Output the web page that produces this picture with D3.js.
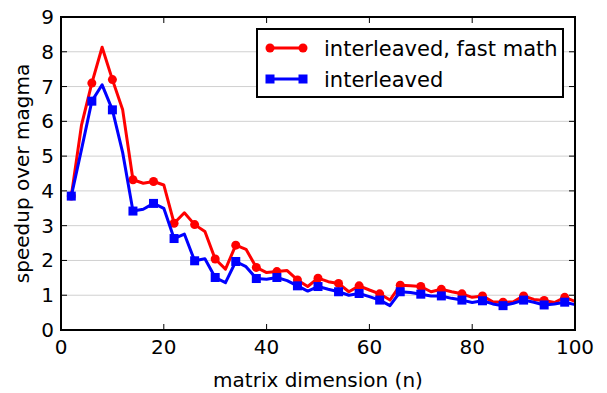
<!DOCTYPE html>
<html lang="en">
<head>
    <meta charset="UTF-8">
    <title>speedup over magma</title>
    <script src="https://d3js.org/d3.v7.min.js"></script>
    <style>
        body { margin: 0; padding: 0; background: white; }
        svg { display: block; font-family: "DejaVu Sans", sans-serif; }
        text { fill: black; }
    </style>
</head>
<body>
    <svg id="chart"></svg>
    <script>
        // matrix dimension n, every 2 from 2 to 100
        const dims = d3.range(2, 101, 2);

        const fastMath = [
            3.85, 5.9, 7.1, 8.13, 7.2, 6.33, 4.32, 4.22, 4.27, 4.17,
            3.07, 3.37, 3.03, 2.83, 2.04, 1.75, 2.44, 2.32, 1.8, 1.65,
            1.68, 1.71, 1.44, 1.25, 1.49, 1.39, 1.34, 1.1, 1.27, 1.15,
            1.04, 0.86, 1.29, 1.27, 1.25, 1.1, 1.17, 1.1, 1.04, 0.94,
            0.98, 0.81, 0.8, 0.81, 0.98, 0.88, 0.85, 0.79, 0.94, 0.82
        ];

        const interleaved = [
            3.85, 5.2, 6.58, 7.05, 6.33, 5.1, 3.42, 3.47, 3.64, 3.5,
            2.63, 2.76, 1.99, 2.05, 1.51, 1.36, 1.97, 1.82, 1.48, 1.46,
            1.51, 1.42, 1.27, 1.12, 1.25, 1.17, 1.1, 1.0, 1.05, 0.96,
            0.86, 0.7, 1.1, 1.08, 1.03, 0.98, 0.98, 0.91, 0.86, 0.79,
            0.84, 0.75, 0.7, 0.77, 0.86, 0.8, 0.72, 0.75, 0.8, 0.73
        ];

        const seriesNames = ["interleaved, fast math", "interleaved"];
        const xTicks = [0, 20, 40, 60, 80, 100];
        const yTicks = d3.range(0, 10);

        const width = 607, height = 393;
        const margin = { top: 17, right: 32, bottom: 63, left: 61 };
        const plotW = width - margin.left - margin.right;
        const plotH = height - margin.top - margin.bottom;
        const fontSize = 20;

        const svg = d3.select("#chart")
            .attr("width", width)
            .attr("height", height);

        const x = d3.scaleLinear().domain([0, 100]).range([margin.left, margin.left + plotW]);
        const y = d3.scaleLinear().domain([0, 9]).range([margin.top + plotH, margin.top]);

        // horizontal grid
        svg.append("g")
            .selectAll("line")
            .data(yTicks.slice(1, -1))
            .enter().append("line")
            .attr("x1", x(0)).attr("x2", x(100))
            .attr("y1", d => y(d)).attr("y2", d => y(d))
            .attr("stroke", "#d0d0d0")
            .attr("stroke-width", 1);

        const series = [
            { name: seriesNames[0], values: fastMath, color: "#ff0000", marker: "circle" },
            { name: seriesNames[1], values: interleaved, color: "#0000ff", marker: "square" }
        ];

        const line = d3.line()
            .x(d => x(d[0]))
            .y(d => y(d[1]));

        function drawMarker(g, shape, color, cx, cy) {
            if (shape === "circle") {
                g.append("circle")
                    .attr("cx", cx).attr("cy", cy).attr("r", 4.5)
                    .attr("fill", color);
            } else {
                g.append("rect")
                    .attr("x", cx - 4.5).attr("y", cy - 4.5)
                    .attr("width", 9).attr("height", 9)
                    .attr("fill", color);
            }
        }

        series.forEach(s => {
            const pts = dims.map((n, i) => [n, s.values[i]]);
            const g = svg.append("g");
            g.append("path")
                .datum(pts)
                .attr("d", line)
                .attr("fill", "none")
                .attr("stroke", s.color)
                .attr("stroke-width", 3)
                .attr("stroke-linejoin", "round");
            // markers on every other point
            pts.filter((p, i) => i % 2 === 0).forEach(p => {
                drawMarker(g, s.marker, s.color, x(p[0]), y(p[1]));
            });
        });

        // frame
        svg.append("rect")
            .attr("x", x(0)).attr("y", y(9))
            .attr("width", plotW).attr("height", plotH)
            .attr("fill", "none")
            .attr("stroke", "black")
            .attr("stroke-width", 2);

        const tickLen = 6;
        const ticks = svg.append("g").attr("stroke", "black").attr("stroke-width", 1);
        xTicks.forEach(t => {
            ticks.append("line").attr("x1", x(t)).attr("x2", x(t))
                .attr("y1", y(0)).attr("y2", y(0) - tickLen);
            ticks.append("line").attr("x1", x(t)).attr("x2", x(t))
                .attr("y1", y(9)).attr("y2", y(9) + tickLen);
        });
        yTicks.forEach(t => {
            ticks.append("line").attr("x1", x(0)).attr("x2", x(0) + tickLen)
                .attr("y1", y(t)).attr("y2", y(t));
            ticks.append("line").attr("x1", x(100)).attr("x2", x(100) - tickLen)
                .attr("y1", y(t)).attr("y2", y(t));
        });

        // tick labels
        svg.append("g")
            .selectAll("text")
            .data(xTicks)
            .enter().append("text")
            .attr("x", d => x(d))
            .attr("y", y(0) + 24)
            .attr("text-anchor", "middle")
            .attr("font-size", fontSize)
            .text(d => d);

        svg.append("g")
            .selectAll("text")
            .data(yTicks)
            .enter().append("text")
            .attr("x", x(0) - 7)
            .attr("y", d => y(d) + 7)
            .attr("text-anchor", "end")
            .attr("font-size", fontSize)
            .text(d => d);

        // axis labels
        svg.append("text")
            .attr("x", margin.left + plotW / 2)
            .attr("y", 387)
            .attr("text-anchor", "middle")
            .attr("font-size", fontSize)
            .text("matrix dimension (n)");

        svg.append("text")
            .attr("transform", `translate(29, ${margin.top + plotH / 2}) rotate(-90)`)
            .attr("text-anchor", "middle")
            .attr("font-size", fontSize)
            .text("speedup over magma");

        // legend
        const legend = svg.append("g");
        legend.append("rect")
            .attr("x", 257).attr("y", 29)
            .attr("width", 306).attr("height", 68)
            .attr("fill", "white")
            .attr("stroke", "black")
            .attr("stroke-width", 2);

        series.forEach((s, i) => {
            const ly = 48 + i * 31;
            legend.append("line")
                .attr("x1", 268).attr("x2", 305)
                .attr("y1", ly).attr("y2", ly)
                .attr("stroke", s.color)
                .attr("stroke-width", 3);
            drawMarker(legend, s.marker, s.color, 270, ly);
            drawMarker(legend, s.marker, s.color, 303, ly);
            legend.append("text")
                .attr("x", 324)
                .attr("y", ly + 7.5)
                .attr("font-size", 21)
                .text(s.name);
        });
    </script>
</body>
</html>
